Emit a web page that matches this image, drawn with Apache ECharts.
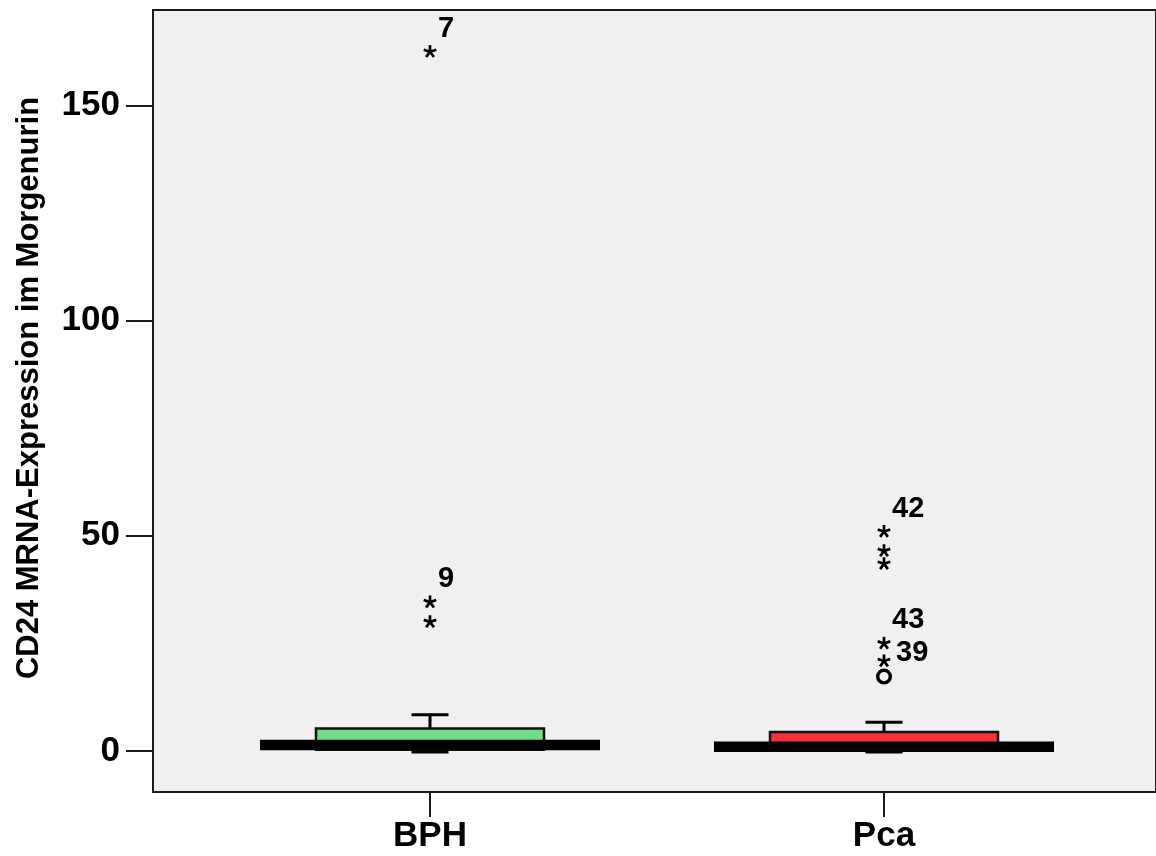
<!DOCTYPE html>
<html>
<head>
<meta charset="utf-8">
<script src="https://cdn.jsdelivr.net/npm/echarts@6/dist/echarts.min.js"></script>
<style>html,body{margin:0;padding:0;background:#fff;}#c{width:1156px;height:856px;}</style>
</head>
<body>
<div id="c"></div>
<script>
// ---- data ----
const categories = ['BPH', 'Pca'];
const whiskerLow = [0, 0];
const q1 = [0.3, 0.05];
const median = [1.4, 1.0];
const q3 = [5.2, 4.4];
const whiskerHigh = [8.4, 6.7];
// outliers: category index, value, kind ('extreme' = *, 'mild' = o), case label
const outlierCategory = [0, 0, 0, 1, 1, 1, 1, 1, 1];
const outlierValue = [162.5, 34.6, 30.0, 51.0, 46.5, 43.5, 25.0, 20.9, 17.3];
const outlierKind = ['extreme', 'extreme', 'extreme', 'extreme', 'extreme', 'extreme', 'extreme', 'extreme', 'mild'];
const outlierLabel = ['7', '9', '', '42', '', '', '43', '39', ''];
const yTicks = [0, 50, 100, 150];
const yTitle = 'CD24 MRNA-Expression im Morgenurin';

// ---- style ----
const FONT = '"Liberation Sans", Arial, sans-serif';
const boxColors = ['#72dd88', '#f4323c'];
const yMin = -9.53, yMax = 172.2;
const labelRightSide = { '39': true };

const chart = echarts.init(document.getElementById('c'));

const boxData = categories.map((c, i) => [i, whiskerLow[i], q1[i], median[i], q3[i], whiskerHigh[i]]);
const outData = outlierValue.map((v, i) => [outlierCategory[i], v, outlierKind[i] === 'extreme' ? 1 : 0, outlierLabel[i]]);

function renderBox(params, api) {
  const i = api.value(0);
  const lo = api.coord([i, api.value(1)]);
  const b = api.coord([i, api.value(2)]);
  const m = api.coord([i, api.value(3)]);
  const t = api.coord([i, api.value(4)]);
  const hi = api.coord([i, api.value(5)]);
  const cx = lo[0];
  const boxW = 228, capW = 37, medW = 340, medH = 10.5;
  const ls = { stroke: '#000', lineWidth: 3 };
  return {
    type: 'group',
    children: [
      { type: 'line', shape: { x1: cx, y1: lo[1], x2: cx, y2: hi[1] }, style: ls },
      { type: 'line', shape: { x1: cx - capW / 2, y1: hi[1], x2: cx + capW / 2, y2: hi[1] }, style: ls },
      { type: 'line', shape: { x1: cx - capW / 2, y1: lo[1] + 1, x2: cx + capW / 2, y2: lo[1] + 1 }, style: ls },
      { type: 'rect', shape: { x: cx - boxW / 2, y: t[1], width: boxW, height: b[1] - t[1] },
        style: { fill: boxColors[i], stroke: '#111', lineWidth: 2.5 } },
      { type: 'rect', shape: { x: cx - medW / 2, y: m[1] - medH / 2, width: medW, height: medH },
        style: { fill: '#000' } }
    ]
  };
}

function renderOutlier(params, api) {
  const p = api.coord([api.value(0), api.value(1)]);
  const extreme = api.value(2) === 1;
  const lab = outData[params.dataIndex][3];
  const children = [];
  if (extreme) {
    const r = 6.6;
    const angles = [90, 18, 162, 234, 306];
    angles.forEach(a => {
      const rad = a * Math.PI / 180;
      children.push({ type: 'line', shape: { x1: p[0], y1: p[1], x2: p[0] + r * Math.cos(rad), y2: p[1] - r * Math.sin(rad) },
        style: { stroke: '#000', lineWidth: 2.7 } });
    });
  } else {
    children.push({ type: 'circle', shape: { cx: p[0], cy: p[1], r: 6.3 }, style: { fill: 'none', stroke: '#000', lineWidth: 3.4 } });
  }
  if (lab) {
    const side = labelRightSide[lab];
    children.push({ type: 'text', style: {
      text: lab, x: p[0] + (side ? 12 : 8), y: p[1] + (side ? -8 : -23),
      font: 'bold 29px ' + FONT, fill: '#000', align: 'left', verticalAlign: 'middle' } });
  }
  return { type: 'group', children };
}

chart.setOption({
  animation: false,
  backgroundColor: '#fff',
  grid: [
    { left: 153, top: 10, right: -10, bottom: 64, show: true, backgroundColor: '#f0f0f0', borderColor: '#1a1a1a', borderWidth: 2 },
    { left: 203, top: 10, right: 45, bottom: 64 }
  ],
  xAxis: [
    { gridIndex: 0, type: 'value', min: 0, max: 1, show: false },
    { gridIndex: 1, type: 'category', data: categories, boundaryGap: true,
      axisLine: { show: false, onZero: false },
      axisTick: { show: true, alignWithLabel: true, length: 25, lineStyle: { color: '#1a1a1a', width: 2 } },
      axisLabel: { color: '#000', fontSize: 35, fontWeight: 'bold', fontFamily: FONT, margin: 27 },
      splitLine: { show: false } }
  ],
  yAxis: [
    { gridIndex: 0, type: 'value', min: yMin, max: yMax,
      name: yTitle, nameLocation: 'middle', nameGap: 108,
      nameTextStyle: { color: '#000', fontSize: 31, fontWeight: 'bold', fontFamily: FONT, padding: [0, 0, 0, 26] },
      axisLine: { show: true, lineStyle: { color: '#1a1a1a', width: 2 } },
      axisTick: { show: true, length: 27, customValues: yTicks, lineStyle: { color: '#1a1a1a', width: 2 } },
      axisLabel: { customValues: yTicks, color: '#000', fontSize: 35, fontWeight: 'bold', fontFamily: FONT, margin: 33 },
      splitLine: { show: false } },
    { gridIndex: 1, type: 'value', min: yMin, max: yMax, show: false, splitLine: { show: false } }
  ],
  series: [
    { type: 'custom', xAxisIndex: 1, yAxisIndex: 1, data: boxData, renderItem: renderBox,
      encode: { x: 0, y: [1, 2, 3, 4, 5] }, clip: false, silent: true },
    { type: 'custom', xAxisIndex: 1, yAxisIndex: 1, data: outData, renderItem: renderOutlier,
      encode: { x: 0, y: 1 }, clip: false, silent: true }
  ]
});
</script>
</body>
</html>
